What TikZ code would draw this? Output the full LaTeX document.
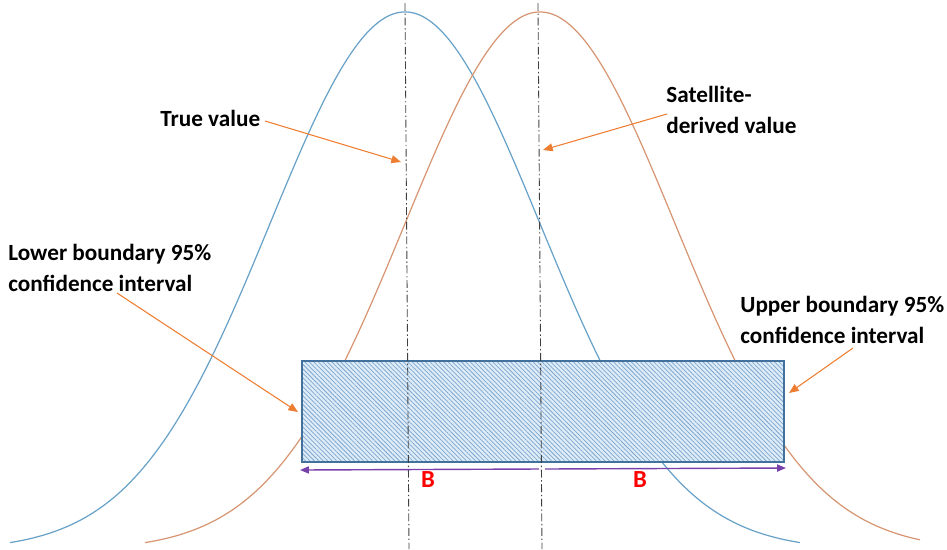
\documentclass[tikz,border=0pt]{standalone}
\usepackage{fontspec}
\setmainfont{Carlito}
\usetikzlibrary{arrows.meta,patterns.meta}
\definecolor{curveblue}{RGB}{105,162,200}
\definecolor{curveorange}{RGB}{215,150,115}
\definecolor{arroworange}{RGB}{237,125,49}
\definecolor{bpurple}{RGB}{120,65,170}
\definecolor{boxedge}{RGB}{65,113,156}
\definecolor{boxfill}{RGB}{222,236,248}
\definecolor{boxhatch}{RGB}{125,166,206}

\begin{document}
\begin{tikzpicture}[
            x=0.02cm, y=-0.02cm,
            lbl/.style={anchor=base west, align=left, inner sep=0pt,
                       font=\fontsize{13.2}{17.1}\selectfont\bfseries},
            blbl/.style={inner sep=0pt, text=red, font=\fontsize{14}{16}\selectfont\bfseries},
            pointer/.style={-{Triangle[length=5.5pt,width=4.5pt]}, line width=0.6pt, color=arroworange},
            barrow/.style={-{Triangle[length=5pt,width=4pt]}, line width=0.8pt, color=bpurple},
            centerline/.style={dash pattern=on 4.5pt off 1.5pt on 0.8pt off 1.5pt, line width=0.5pt, color=black!75},
            curve/.style={line width=0.7pt, samples=150, smooth}
        ]
            \useasboundingbox (0,0) rectangle (947,549);

            % the two distributions
            \draw[curve, curveblue] plot[domain=10:800] (\x,{550-538*exp(-0.5*((\x-405)/135)^2)});
            \draw[curve, curveorange] plot[domain=145:920] (\x,{550-538*exp(-0.5*((\x-540)/135)^2)});

            % confidence interval box
            \coordinate (lo) at (302,462);
            \coordinate (hi) at (784,361);
            \fill[boxfill] (lo) rectangle (hi);
            \fill[pattern={Lines[angle=-45,distance=1.8pt,line width=0.42pt]}, pattern color=boxhatch] (lo) rectangle (hi);
            \draw[boxedge, line width=0.8pt] (lo) rectangle (hi);

            % centre lines
            \coordinate (ttop) at (405,3);
            \coordinate (tbot) at (409,549);
            \coordinate (stop) at (538,3);
            \coordinate (sbot) at (542,549);
            \draw[centerline] (ttop) -- (tbot);
            \draw[centerline] (stop) -- (sbot);

            % labels (base = last line)
            \node[lbl] (truelbl) at (160,126) {True value};
            \node[lbl] (satlbl) at (666,133) {Satellite-\\derived value};
            \node[lbl] (lowlbl) at (8,291) {Lower boundary 95\%\\confidence interval};
            \node[lbl] (upplbl) at (740,343) {Upper boundary 95\%\\confidence interval};

            % arrow targets
            \coordinate (truept) at (401,162);
            \coordinate (satpt) at (543,150);
            \coordinate (lowpt) at (298,412);
            \coordinate (upppt) at (789,393);

            \draw[pointer] (265,121) -- (truept);
            \draw[pointer] (667,114) -- (satpt);
            \draw[pointer] (117,293) -- (lowpt);
            \draw[pointer] (853,348) -- (upppt);

            % bias arrows
            \coordinate (bmidl) at (539,469);
            \coordinate (bmidr) at (545,469);
            \coordinate (bleft) at (300,470);
            \coordinate (bright) at (786,468);
            \draw[barrow] (bmidl) -- (bleft);
            \draw[barrow] (bmidr) -- (bright);
            \node[blbl] (bl) at (428,480) {B};
            \node[blbl] (br) at (640,480) {B};
        \end{tikzpicture}
\end{document}
